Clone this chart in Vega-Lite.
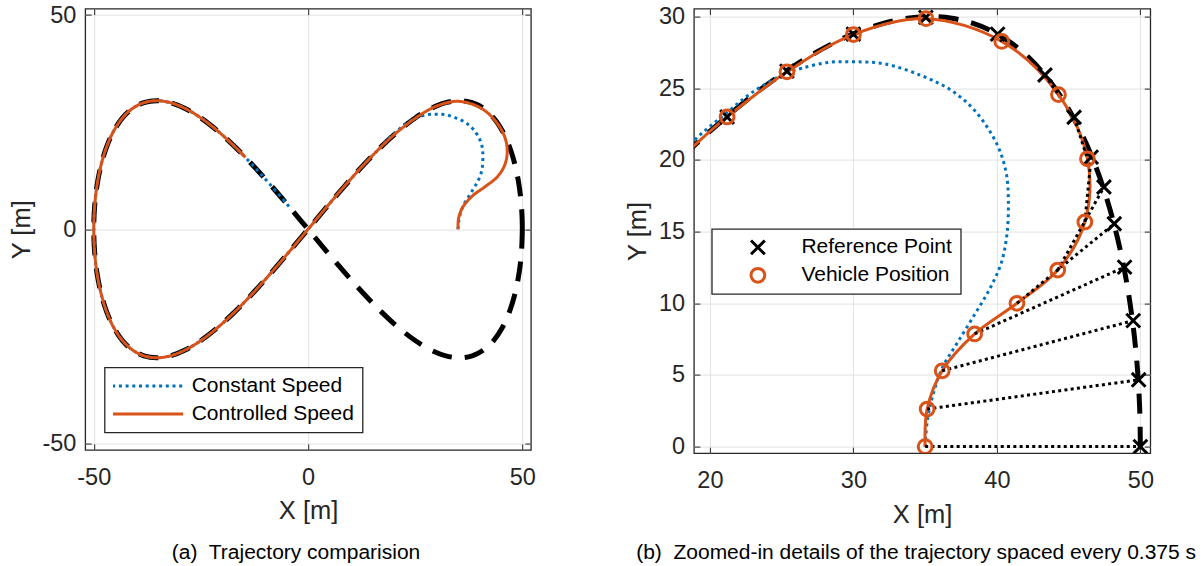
{
  "$schema": "https://vega.github.io/schema/vega-lite/v6.json",
  "background": "white",
  "padding": {"left": 8.2, "top": 1.6, "right": 5, "bottom": 5},
  "spacing": 88.7,
  "config": {
    "font": "Liberation Sans",
    "view": {"stroke": "#262626", "strokeWidth": 1.3},
    "axis": {
      "labelFont": "Liberation Sans", "labelFontSize": 23.5, "labelColor": "#262626",
      "titleFont": "Liberation Sans", "titleFontSize": 25.5, "titleFontWeight": "normal", "titleColor": "#262626",
      "grid": true, "gridColor": "#e2e2e2", "gridWidth": 1,
      "domain": false, "ticks": true, "tickSize": -6, "tickColor": "#262626", "tickWidth": 1,
      "labelFlush": false, "labelExpr": "'' + datum.value"
    },
    "axisX": {"labelPadding": 21.5, "titlePadding": 10},
    "axisY": {"labelPadding": 15.3, "titlePadding": 7.5},
    "legend": {
      "labelFont": "Liberation Sans", "labelFontSize": 21, "labelColor": "#000000", "labelLimit": 400,
      "strokeColor": "#262626", "strokeWidth": 1.3, "fillColor": "white", "padding": 8.5, "rowPadding": 6.9, "clipHeight": 20
    },
    "title": {"font": "Liberation Sans", "fontSize": 21, "fontWeight": "normal", "color": "#000000", "orient": "bottom", "anchor": "middle", "offset": 17.5}
  },
  "resolve": {"scale": {"x": "independent", "y": "independent", "color": "independent", "shape": "independent", "strokeDash": "independent"}},
  "datasets": {
    "ref": [
      {"o": 0, "x": 50, "y": 0}, {"o": 1, "x": 49.952, "y": 2.615}, {"o": 2, "x": 49.81, "y": 5.209}, {"o": 3, "x": 49.572, "y": 7.765},
      {"o": 4, "x": 49.24, "y": 10.261}, {"o": 5, "x": 48.815, "y": 12.679}, {"o": 6, "x": 48.296, "y": 15.0}, {"o": 7, "x": 47.686, "y": 17.207},
      {"o": 8, "x": 46.985, "y": 19.284}, {"o": 9, "x": 46.194, "y": 21.213}, {"o": 10, "x": 45.315, "y": 22.981}, {"o": 11, "x": 44.351, "y": 24.575},
      {"o": 12, "x": 43.301, "y": 25.981}, {"o": 13, "x": 42.17, "y": 27.189}, {"o": 14, "x": 40.958, "y": 28.191}, {"o": 15, "x": 39.668, "y": 28.978},
      {"o": 16, "x": 38.302, "y": 29.544}, {"o": 17, "x": 36.864, "y": 29.886}, {"o": 18, "x": 35.355, "y": 30.0}, {"o": 19, "x": 33.78, "y": 29.886},
      {"o": 20, "x": 32.139, "y": 29.544}, {"o": 21, "x": 30.438, "y": 28.978}, {"o": 22, "x": 28.679, "y": 28.191}, {"o": 23, "x": 26.865, "y": 27.189},
      {"o": 24, "x": 25.0, "y": 25.981}, {"o": 25, "x": 23.087, "y": 24.575}, {"o": 26, "x": 21.131, "y": 22.981}, {"o": 27, "x": 19.134, "y": 21.213},
      {"o": 28, "x": 17.101, "y": 19.284}, {"o": 29, "x": 12.941, "y": 15.0}, {"o": 30, "x": 8.682, "y": 10.261}, {"o": 31, "x": 4.358, "y": 5.209},
      {"o": 32, "x": 0, "y": 0}, {"o": 33, "x": -4.358, "y": -5.209}, {"o": 34, "x": -8.682, "y": -10.261}, {"o": 35, "x": -12.941, "y": -15.0},
      {"o": 36, "x": -17.101, "y": -19.284}, {"o": 37, "x": -21.131, "y": -22.981}, {"o": 38, "x": -25.0, "y": -25.981}, {"o": 39, "x": -28.679, "y": -28.191},
      {"o": 40, "x": -32.139, "y": -29.544}, {"o": 41, "x": -35.355, "y": -30.0}, {"o": 42, "x": -38.302, "y": -29.544}, {"o": 43, "x": -40.958, "y": -28.191},
      {"o": 44, "x": -43.301, "y": -25.981}, {"o": 45, "x": -45.315, "y": -22.981}, {"o": 46, "x": -46.985, "y": -19.284}, {"o": 47, "x": -48.296, "y": -15.0},
      {"o": 48, "x": -49.24, "y": -10.261}, {"o": 49, "x": -49.81, "y": -5.209}, {"o": 50, "x": -50, "y": 0}, {"o": 51, "x": -49.81, "y": 5.209},
      {"o": 52, "x": -49.24, "y": 10.261}, {"o": 53, "x": -48.296, "y": 15.0}, {"o": 54, "x": -46.985, "y": 19.284}, {"o": 55, "x": -45.315, "y": 22.981},
      {"o": 56, "x": -43.301, "y": 25.981}, {"o": 57, "x": -40.958, "y": 28.191}, {"o": 58, "x": -38.302, "y": 29.544}, {"o": 59, "x": -35.355, "y": 30.0},
      {"o": 60, "x": -32.139, "y": 29.544}, {"o": 61, "x": -28.679, "y": 28.191}, {"o": 62, "x": -25.0, "y": 25.981}, {"o": 63, "x": -21.131, "y": 22.981},
      {"o": 64, "x": -17.101, "y": 19.284}, {"o": 65, "x": -12.941, "y": 15.0}, {"o": 66, "x": -8.682, "y": 10.261}, {"o": 67, "x": -4.358, "y": 5.209},
      {"o": 68, "x": 0, "y": 0}, {"o": 69, "x": 4.358, "y": -5.209}, {"o": 70, "x": 8.682, "y": -10.261}, {"o": 71, "x": 12.941, "y": -15.0},
      {"o": 72, "x": 17.101, "y": -19.284}, {"o": 73, "x": 21.131, "y": -22.981}, {"o": 74, "x": 25.0, "y": -25.981}, {"o": 75, "x": 28.679, "y": -28.191},
      {"o": 76, "x": 32.139, "y": -29.544}, {"o": 77, "x": 35.355, "y": -30.0}, {"o": 78, "x": 38.302, "y": -29.544}, {"o": 79, "x": 40.958, "y": -28.191},
      {"o": 80, "x": 43.301, "y": -25.981}, {"o": 81, "x": 45.315, "y": -22.981}, {"o": 82, "x": 46.985, "y": -19.284}, {"o": 83, "x": 48.296, "y": -15.0},
      {"o": 84, "x": 49.24, "y": -10.261}, {"o": 85, "x": 49.81, "y": -5.209}, {"o": 86, "x": 50, "y": 0}
    ],
    "paths": [
      {"series": "Constant Speed", "o": 0, "x": 35.0, "y": 0}, {"series": "Constant Speed", "o": 1, "x": 35.15, "y": 1.8},
      {"series": "Constant Speed", "o": 2, "x": 35.5, "y": 3.45}, {"series": "Constant Speed", "o": 3, "x": 36.2, "y": 5.5},
      {"series": "Constant Speed", "o": 4, "x": 37.25, "y": 7.25}, {"series": "Constant Speed", "o": 5, "x": 38.5, "y": 9.3},
      {"series": "Constant Speed", "o": 6, "x": 39.5, "y": 11.0}, {"series": "Constant Speed", "o": 7, "x": 40.3, "y": 12.8},
      {"series": "Constant Speed", "o": 8, "x": 40.7, "y": 14.8}, {"series": "Constant Speed", "o": 9, "x": 40.8, "y": 17.1},
      {"series": "Constant Speed", "o": 10, "x": 40.65, "y": 19.1}, {"series": "Constant Speed", "o": 11, "x": 40.0, "y": 21.1},
      {"series": "Constant Speed", "o": 12, "x": 38.5, "y": 23.4}, {"series": "Constant Speed", "o": 13, "x": 36.75, "y": 24.9},
      {"series": "Constant Speed", "o": 14, "x": 34.7, "y": 25.9}, {"series": "Constant Speed", "o": 15, "x": 32.2, "y": 26.7},
      {"series": "Constant Speed", "o": 16, "x": 30.05, "y": 26.85}, {"series": "Constant Speed", "o": 17, "x": 28.2, "y": 26.8},
      {"series": "Constant Speed", "o": 18, "x": 26.4, "y": 26.4}, {"series": "Constant Speed", "o": 19, "x": 25.3, "y": 26.05},
      {"series": "Constant Speed", "o": 20, "x": 23.0, "y": 24.75}, {"series": "Constant Speed", "o": 21, "x": 21.0, "y": 23.15},
      {"series": "Constant Speed", "o": 22, "x": 19.0, "y": 21.45}, {"series": "Constant Speed", "o": 23, "x": 17.101, "y": 19.284},
      {"series": "Constant Speed", "o": 24, "x": 12.941, "y": 15.0}, {"series": "Constant Speed", "o": 25, "x": 8.682, "y": 10.261},
      {"series": "Constant Speed", "o": 26, "x": 4.358, "y": 5.209}, {"series": "Constant Speed", "o": 27, "x": 0, "y": 0},
      {"series": "Constant Speed", "o": 28, "x": -4.358, "y": -5.209}, {"series": "Constant Speed", "o": 29, "x": -8.682, "y": -10.261},
      {"series": "Constant Speed", "o": 30, "x": -12.941, "y": -15.0}, {"series": "Constant Speed", "o": 31, "x": -17.101, "y": -19.284},
      {"series": "Constant Speed", "o": 32, "x": -21.131, "y": -22.981}, {"series": "Constant Speed", "o": 33, "x": -25.0, "y": -25.981},
      {"series": "Constant Speed", "o": 34, "x": -28.679, "y": -28.191}, {"series": "Constant Speed", "o": 35, "x": -32.139, "y": -29.544},
      {"series": "Constant Speed", "o": 36, "x": -35.355, "y": -30.0}, {"series": "Constant Speed", "o": 37, "x": -38.302, "y": -29.544},
      {"series": "Constant Speed", "o": 38, "x": -40.958, "y": -28.191}, {"series": "Constant Speed", "o": 39, "x": -43.301, "y": -25.981},
      {"series": "Constant Speed", "o": 40, "x": -45.315, "y": -22.981}, {"series": "Constant Speed", "o": 41, "x": -46.985, "y": -19.284},
      {"series": "Constant Speed", "o": 42, "x": -48.296, "y": -15.0}, {"series": "Constant Speed", "o": 43, "x": -49.24, "y": -10.261},
      {"series": "Constant Speed", "o": 44, "x": -49.81, "y": -5.209}, {"series": "Constant Speed", "o": 45, "x": -50, "y": 0},
      {"series": "Constant Speed", "o": 46, "x": -49.81, "y": 5.209}, {"series": "Constant Speed", "o": 47, "x": -49.24, "y": 10.261},
      {"series": "Constant Speed", "o": 48, "x": -48.296, "y": 15.0}, {"series": "Constant Speed", "o": 49, "x": -46.985, "y": 19.284},
      {"series": "Constant Speed", "o": 50, "x": -45.315, "y": 22.981}, {"series": "Constant Speed", "o": 51, "x": -43.301, "y": 25.981},
      {"series": "Constant Speed", "o": 52, "x": -40.958, "y": 28.191}, {"series": "Constant Speed", "o": 53, "x": -38.302, "y": 29.544},
      {"series": "Constant Speed", "o": 54, "x": -35.355, "y": 30.0}, {"series": "Constant Speed", "o": 55, "x": -32.139, "y": 29.544},
      {"series": "Constant Speed", "o": 56, "x": -28.679, "y": 28.191}, {"series": "Constant Speed", "o": 57, "x": -25.0, "y": 25.981},
      {"series": "Constant Speed", "o": 58, "x": -21.131, "y": 22.981}, {"series": "Constant Speed", "o": 59, "x": -17.101, "y": 19.284},
      {"series": "Constant Speed", "o": 60, "x": -12.941, "y": 15.0}, {"series": "Constant Speed", "o": 61, "x": -8.682, "y": 10.261},
      {"series": "Constant Speed", "o": 62, "x": -4.358, "y": 5.209},
      {"series": "Controlled Speed", "o": 0, "x": 35.0, "y": 0}, {"series": "Controlled Speed", "o": 1, "x": 35.14, "y": 2.62},
      {"series": "Controlled Speed", "o": 2, "x": 36.19, "y": 5.29}, {"series": "Controlled Speed", "o": 3, "x": 38.45, "y": 7.86},
      {"series": "Controlled Speed", "o": 4, "x": 41.4, "y": 10.0}, {"series": "Controlled Speed", "o": 5, "x": 44.24, "y": 12.32},
      {"series": "Controlled Speed", "o": 6, "x": 46.13, "y": 15.67}, {"series": "Controlled Speed", "o": 7, "x": 46.31, "y": 20.08},
      {"series": "Controlled Speed", "o": 8, "x": 44.29, "y": 24.56}, {"series": "Controlled Speed", "o": 9, "x": 40.34, "y": 28.27},
      {"series": "Controlled Speed", "o": 10, "x": 35.06, "y": 29.86}, {"series": "Controlled Speed", "o": 11, "x": 30.0, "y": 28.75},
      {"series": "Controlled Speed", "o": 12, "x": 25.37, "y": 26.15}, {"series": "Controlled Speed", "o": 13, "x": 21.2, "y": 23.0},
      {"series": "Controlled Speed", "o": 14, "x": 19.134, "y": 21.213}, {"series": "Controlled Speed", "o": 15, "x": 17.101, "y": 19.284},
      {"series": "Controlled Speed", "o": 16, "x": 12.941, "y": 15.0}, {"series": "Controlled Speed", "o": 17, "x": 8.682, "y": 10.261},
      {"series": "Controlled Speed", "o": 18, "x": 4.358, "y": 5.209}, {"series": "Controlled Speed", "o": 19, "x": 0, "y": 0},
      {"series": "Controlled Speed", "o": 20, "x": -4.358, "y": -5.209}, {"series": "Controlled Speed", "o": 21, "x": -8.682, "y": -10.261},
      {"series": "Controlled Speed", "o": 22, "x": -12.941, "y": -15.0}, {"series": "Controlled Speed", "o": 23, "x": -17.101, "y": -19.284},
      {"series": "Controlled Speed", "o": 24, "x": -21.131, "y": -22.981}, {"series": "Controlled Speed", "o": 25, "x": -25.0, "y": -25.981},
      {"series": "Controlled Speed", "o": 26, "x": -28.679, "y": -28.191}, {"series": "Controlled Speed", "o": 27, "x": -32.139, "y": -29.544},
      {"series": "Controlled Speed", "o": 28, "x": -35.355, "y": -30.0}, {"series": "Controlled Speed", "o": 29, "x": -38.302, "y": -29.544},
      {"series": "Controlled Speed", "o": 30, "x": -40.958, "y": -28.191}, {"series": "Controlled Speed", "o": 31, "x": -43.301, "y": -25.981},
      {"series": "Controlled Speed", "o": 32, "x": -45.315, "y": -22.981}, {"series": "Controlled Speed", "o": 33, "x": -46.985, "y": -19.284},
      {"series": "Controlled Speed", "o": 34, "x": -48.296, "y": -15.0}, {"series": "Controlled Speed", "o": 35, "x": -49.24, "y": -10.261},
      {"series": "Controlled Speed", "o": 36, "x": -49.81, "y": -5.209}, {"series": "Controlled Speed", "o": 37, "x": -50, "y": 0},
      {"series": "Controlled Speed", "o": 38, "x": -49.81, "y": 5.209}, {"series": "Controlled Speed", "o": 39, "x": -49.24, "y": 10.261},
      {"series": "Controlled Speed", "o": 40, "x": -48.296, "y": 15.0}, {"series": "Controlled Speed", "o": 41, "x": -46.985, "y": 19.284},
      {"series": "Controlled Speed", "o": 42, "x": -45.315, "y": 22.981}, {"series": "Controlled Speed", "o": 43, "x": -43.301, "y": 25.981},
      {"series": "Controlled Speed", "o": 44, "x": -40.958, "y": 28.191}, {"series": "Controlled Speed", "o": 45, "x": -38.302, "y": 29.544},
      {"series": "Controlled Speed", "o": 46, "x": -35.355, "y": 30.0}, {"series": "Controlled Speed", "o": 47, "x": -32.139, "y": 29.544},
      {"series": "Controlled Speed", "o": 48, "x": -28.679, "y": 28.191}, {"series": "Controlled Speed", "o": 49, "x": -25.0, "y": 25.981},
      {"series": "Controlled Speed", "o": 50, "x": -21.131, "y": 22.981}, {"series": "Controlled Speed", "o": 51, "x": -17.101, "y": 19.284},
      {"series": "Controlled Speed", "o": 52, "x": -14.619, "y": 16.776}
    ],
    "marks": [
      {"kind": "Reference Point", "pair": 0, "x": 50.0, "y": 0}, {"kind": "Reference Point", "pair": 1, "x": 49.88, "y": 4.66},
      {"kind": "Reference Point", "pair": 2, "x": 49.5, "y": 8.79}, {"kind": "Reference Point", "pair": 3, "x": 48.9, "y": 12.52},
      {"kind": "Reference Point", "pair": 4, "x": 48.18, "y": 15.55}, {"kind": "Reference Point", "pair": 5, "x": 47.46, "y": 18.11},
      {"kind": "Reference Point", "pair": 6, "x": 46.57, "y": 20.2}, {"kind": "Reference Point", "pair": 7, "x": 45.38, "y": 22.98},
      {"kind": "Reference Point", "pair": 8, "x": 43.35, "y": 25.93}, {"kind": "Reference Point", "pair": 9, "x": 40.05, "y": 28.78},
      {"kind": "Reference Point", "pair": 10, "x": 35.05, "y": 29.95}, {"kind": "Reference Point", "pair": 11, "x": 30.0, "y": 28.78},
      {"kind": "Reference Point", "pair": 12, "x": 25.37, "y": 26.2}, {"kind": "Reference Point", "pair": 13, "x": 21.2, "y": 23.0},
      {"kind": "Vehicle Position", "pair": 0, "x": 35.0, "y": 0}, {"kind": "Vehicle Position", "pair": 1, "x": 35.14, "y": 2.62},
      {"kind": "Vehicle Position", "pair": 2, "x": 36.19, "y": 5.29}, {"kind": "Vehicle Position", "pair": 3, "x": 38.45, "y": 7.86},
      {"kind": "Vehicle Position", "pair": 4, "x": 41.4, "y": 10.0}, {"kind": "Vehicle Position", "pair": 5, "x": 44.24, "y": 12.32},
      {"kind": "Vehicle Position", "pair": 6, "x": 46.13, "y": 15.67}, {"kind": "Vehicle Position", "pair": 7, "x": 46.31, "y": 20.08},
      {"kind": "Vehicle Position", "pair": 8, "x": 44.29, "y": 24.56}, {"kind": "Vehicle Position", "pair": 9, "x": 40.34, "y": 28.27},
      {"kind": "Vehicle Position", "pair": 10, "x": 35.06, "y": 29.86}, {"kind": "Vehicle Position", "pair": 11, "x": 30.0, "y": 28.75},
      {"kind": "Vehicle Position", "pair": 12, "x": 25.37, "y": 26.15}, {"kind": "Vehicle Position", "pair": 13, "x": 21.2, "y": 23.0}
    ]
  },
  "hconcat": [
    {
      "width": 445.7,
      "height": 441.3,
      "title": {"text": "(a)\u00a0 Trajectory comparision", "dx": -12},
      "resolve": {"axis": {"x": "independent", "y": "independent"}},
      "layer": [
        {
          "layer": [
            {
              "data": {"name": "ref"},
              "mark": {"type": "line", "color": "#000000", "strokeWidth": 5, "strokeDash": [20, 13], "interpolate": "catmull-rom"},
              "encoding": {
                "x": {"field": "x", "type": "quantitative", "scale": {"domain": [-52, 52], "nice": false, "zero": false}, "axis": {"values": [-50, 0, 50], "title": "X [m]"}},
                "y": {"field": "y", "type": "quantitative", "scale": {"domain": [-51.5, 51.5], "nice": false, "zero": false}, "axis": {"values": [-50, 0, 50], "title": "Y [m]"}},
                "order": {"field": "o"}
              }
            },
            {
              "data": {"name": "paths"},
              "transform": [{"filter": "datum.series === 'Constant Speed'"}],
              "mark": {"type": "line", "strokeWidth": 3, "interpolate": "catmull-rom"},
              "encoding": {
                "x": {"field": "x", "type": "quantitative"},
                "y": {"field": "y", "type": "quantitative"},
                "order": {"field": "o"},
                "color": {"field": "series", "type": "nominal", "scale": {"domain": ["Constant Speed", "Controlled Speed"], "range": ["#0072BD", "#D95319"]},
                  "legend": {"title": null, "orient": "none", "legendX": 19.4, "legendY": 358.9, "symbolType": "stroke", "symbolSize": 5041, "symbolStrokeWidth": 3, "symbolOffset": -2.4, "labelOffset": 7.0}},
                "strokeDash": {"field": "series", "type": "nominal", "scale": {"domain": ["Constant Speed", "Controlled Speed"], "range": [[3, 3.7], [1, 0]]},
                  "legend": {"title": null, "orient": "none", "legendX": 19.4, "legendY": 358.9, "symbolType": "stroke", "symbolSize": 5041, "symbolStrokeWidth": 3, "symbolOffset": -2.4, "labelOffset": 7.0}}
              }
            },
            {
              "data": {"name": "paths"},
              "transform": [{"filter": "datum.series === 'Controlled Speed'"}],
              "mark": {"type": "line", "strokeWidth": 3, "interpolate": "catmull-rom"},
              "encoding": {
                "x": {"field": "x", "type": "quantitative"},
                "y": {"field": "y", "type": "quantitative"},
                "order": {"field": "o"},
                "color": {"field": "series", "type": "nominal"},
                "strokeDash": {"field": "series", "type": "nominal"}
              }
            }
          ]
        },
        {
          "data": {"name": "ref"},
          "mark": {"type": "point", "opacity": 0, "clip": true},
          "encoding": {
            "x": {"field": "x", "type": "quantitative", "axis": {"orient": "top", "values": [-50, 0, 50], "labels": false, "grid": false, "title": null}},
            "y": {"field": "y", "type": "quantitative", "axis": {"orient": "right", "values": [-50, 0, 50], "labels": false, "grid": false, "title": null}}
          }
        }
      ]
    },
    {
      "width": 456.4,
      "height": 444.6,
      "title": {"text": "(b)\u00a0 Zoomed-in details of the trajectory spaced every 0.375 s", "dx": -6, "offset": 14.2},
      "resolve": {"axis": {"x": "independent", "y": "independent"}},
      "layer": [
        {
          "layer": [
            {
              "data": {"name": "ref"},
              "mark": {"type": "line", "color": "#000000", "strokeWidth": 5, "strokeDash": [20, 13], "interpolate": "catmull-rom", "clip": true},
              "encoding": {
                "x": {"field": "x", "type": "quantitative", "scale": {"domain": [18.885, 50.69], "nice": false, "zero": false}, "axis": {"values": [20, 30, 40, 50], "title": "X [m]"}},
                "y": {"field": "y", "type": "quantitative", "scale": {"domain": [-0.46, 30.56], "nice": false, "zero": false}, "axis": {"values": [0, 5, 10, 15, 20, 25, 30], "title": "Y [m]"}},
                "order": {"field": "o"}
              }
            },
            {
              "data": {"name": "paths"},
              "transform": [{"filter": "datum.series === 'Constant Speed'"}],
              "mark": {"type": "line", "color": "#0072BD", "strokeWidth": 3, "strokeDash": [3, 3.7], "interpolate": "catmull-rom", "clip": true},
              "encoding": {
                "x": {"field": "x", "type": "quantitative"},
                "y": {"field": "y", "type": "quantitative"},
                "order": {"field": "o"}
              }
            },
            {
              "data": {"name": "paths"},
              "transform": [{"filter": "datum.series === 'Controlled Speed'"}],
              "mark": {"type": "line", "color": "#D95319", "strokeWidth": 3, "interpolate": "catmull-rom", "clip": true},
              "encoding": {
                "x": {"field": "x", "type": "quantitative"},
                "y": {"field": "y", "type": "quantitative"},
                "order": {"field": "o"}
              }
            },
            {
              "data": {"name": "marks"},
              "mark": {"type": "line", "color": "#000000", "strokeWidth": 3, "strokeDash": [3, 3.3], "clip": true},
              "encoding": {
                "x": {"field": "x", "type": "quantitative"},
                "y": {"field": "y", "type": "quantitative"},
                "detail": {"field": "pair", "type": "nominal"}
              }
            },
            {
              "data": {"name": "marks"},
              "mark": {"type": "point", "filled": false, "strokeWidth": 3, "size": 190, "opacity": 1, "clip": true},
              "encoding": {
                "x": {"field": "x", "type": "quantitative"},
                "y": {"field": "y", "type": "quantitative"},
                "color": {"field": "kind", "type": "nominal", "scale": {"domain": ["Reference Point", "Vehicle Position"], "range": ["#000000", "#D95319"]},
                  "legend": {"title": null, "orient": "none", "legendX": 17.9, "legendY": 220.3, "symbolSize": 190, "symbolStrokeWidth": 3, "symbolOffset": 27.1, "labelOffset": 33}},
                "shape": {"field": "kind", "type": "nominal", "scale": {"domain": ["Reference Point", "Vehicle Position"], "range": ["M-1,-1L1,1M-1,1L1,-1", "circle"]},
                  "legend": {"title": null, "orient": "none", "legendX": 17.9, "legendY": 220.3, "symbolSize": 190, "symbolStrokeWidth": 3, "symbolOffset": 27.1, "labelOffset": 33}}
              }
            }
          ]
        },
        {
          "data": {"name": "marks"},
          "mark": {"type": "point", "opacity": 0, "clip": true},
          "encoding": {
            "x": {"field": "x", "type": "quantitative", "axis": {"orient": "top", "values": [20, 30, 40, 50], "labels": false, "grid": false, "title": null}},
            "y": {"field": "y", "type": "quantitative", "axis": {"orient": "right", "values": [0, 5, 10, 15, 20, 25, 30], "labels": false, "grid": false, "title": null}}
          }
        }
      ]
    }
  ]
}
